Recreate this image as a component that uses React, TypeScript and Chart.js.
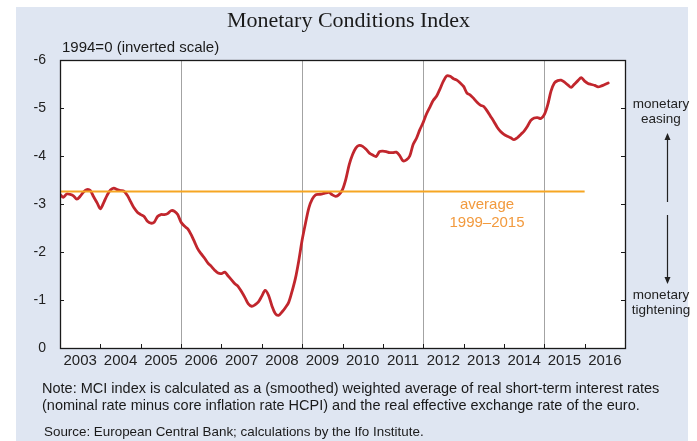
import React, { useEffect, useRef } from 'react';
import { Chart, registerables } from 'chart.js';

Chart.register(...registerables);

// ---- data ----
const yearLabels = ['2003', '2004', '2005', '2006', '2007', '2008', '2009', '2010', '2011', '2012', '2013', '2014', '2015', '2016'];

// Monthly MCI values (1994=0), January of each year first
const mci2003 = [-3.20, -3.14, -3.21, -3.20, -3.17, -3.10, -3.16, -3.25, -3.30, -3.28, -3.15, -3.03];
const mci2004 = [-2.90, -3.03, -3.18, -3.29, -3.33, -3.30, -3.28, -3.27, -3.18, -3.05, -2.92, -2.83];
const mci2005 = [-2.78, -2.74, -2.64, -2.60, -2.62, -2.74, -2.78, -2.78, -2.80, -2.86, -2.85, -2.78];
const mci2006 = [-2.62, -2.54, -2.48, -2.36, -2.21, -2.06, -1.96, -1.87, -1.77, -1.70, -1.62, -1.56];
const mci2007 = [-1.55, -1.58, -1.50, -1.42, -1.34, -1.28, -1.17, -1.05, -0.92, -0.87, -0.90, -0.96];
const mci2008 = [-1.08, -1.20, -1.10, -0.88, -0.72, -0.68, -0.75, -0.84, -0.95, -1.18, -1.45, -1.82];
const mci2009 = [-2.25, -2.60, -2.92, -3.10, -3.19, -3.20, -3.21, -3.23, -3.24, -3.19, -3.16, -3.20];
const mci2010 = [-3.30, -3.52, -3.82, -4.03, -4.17, -4.22, -4.20, -4.14, -4.06, -4.02, -3.99, -4.09];
const mci2011 = [-4.10, -4.09, -4.07, -4.07, -4.08, -4.01, -3.90, -3.92, -4.00, -4.24, -4.37, -4.55];
const mci2012 = [-4.70, -4.88, -5.02, -5.16, -5.25, -5.40, -5.56, -5.67, -5.66, -5.61, -5.58, -5.52];
const mci2013 = [-5.45, -5.31, -5.27, -5.20, -5.12, -5.06, -5.03, -4.94, -4.83, -4.72, -4.60, -4.51];
const mci2014 = [-4.45, -4.41, -4.38, -4.34, -4.38, -4.45, -4.52, -4.62, -4.74, -4.79, -4.80, -4.78];
const mci2015 = [-4.86, -5.06, -5.35, -5.52, -5.57, -5.58, -5.54, -5.48, -5.43, -5.50, -5.57, -5.63];
const mci2016 = [-5.56, -5.51, -5.49, -5.47, -5.44, -5.46, -5.49, -5.52];

const averageValue = -3.26; // average 1999–2015
const averageFromYear = 2003;
const averageToYear = 2016;

const yTickValues = [-6, -5, -4, -3, -2, -1, 0];
const gridYears = ['2006', '2009', '2012', '2015'];

const mciMonthly = [
  ...mci2003, ...mci2004, ...mci2005, ...mci2006, ...mci2007, ...mci2008, ...mci2009,
  ...mci2010, ...mci2011, ...mci2012, ...mci2013, ...mci2014, ...mci2015, ...mci2016,
];

const FIRST_YEAR = Number(yearLabels[0]);
const monthOf = (year: number) => (year - FIRST_YEAR) * 12;

const framePlugin = {
  id: 'frame',
  beforeDraw(chart: any) {
    const { ctx, chartArea } = chart;
    const { left, top, right, bottom } = chartArea;
    ctx.save();
    ctx.fillStyle = '#ffffff';
    ctx.fillRect(left, top, right - left, bottom - top);
    ctx.restore();
  },
  beforeDatasetsDraw(chart: any) {
    const { ctx, chartArea, scales } = chart;
    const xs = scales.x;
    ctx.save();
    ctx.strokeStyle = '#a3a3a3';
    ctx.lineWidth = 1;
    gridYears.forEach((y) => {
      const px = Math.round(xs.getPixelForValue(monthOf(Number(y)))) + 0.5;
      ctx.beginPath();
      ctx.moveTo(px, chartArea.top);
      ctx.lineTo(px, chartArea.bottom);
      ctx.stroke();
    });
    ctx.restore();
  },
  afterDatasetsDraw(chart: any) {
    const { ctx, chartArea, scales } = chart;
    const { left, top, right, bottom } = chartArea;
    const xs = scales.x;
    const ys = scales.y;
    ctx.save();
    ctx.strokeStyle = '#1a1a1a';
    ctx.lineWidth = 1;
    // inward ticks
    ctx.beginPath();
    yTickValues.forEach((v) => {
      const py = Math.round(ys.getPixelForValue(v)) + 0.5;
      ctx.moveTo(left, py);
      ctx.lineTo(left + 4, py);
      ctx.moveTo(right - 4, py);
      ctx.lineTo(right, py);
    });
    for (let i = 1; i < yearLabels.length; i++) {
      const px = Math.round(xs.getPixelForValue(i * 12)) + 0.5;
      ctx.moveTo(px, bottom);
      ctx.lineTo(px, bottom - 4);
    }
    ctx.stroke();
    // frame
    ctx.lineWidth = 1.3;
    ctx.strokeRect(Math.round(left) + 0.5, Math.round(top) + 0.5, Math.round(right - left), Math.round(bottom - top));

    // easing / tightening arrows
    const ax = 667.5;
    ctx.strokeStyle = '#222';
    ctx.fillStyle = '#222';
    ctx.lineWidth = 1.2;
    ctx.beginPath();
    ctx.moveTo(ax, 202);
    ctx.lineTo(ax, 138);
    ctx.moveTo(ax, 215);
    ctx.lineTo(ax, 279);
    ctx.stroke();
    ctx.beginPath();
    ctx.moveTo(ax, 133);
    ctx.lineTo(ax - 3, 140);
    ctx.lineTo(ax + 3, 140);
    ctx.closePath();
    ctx.fill();
    ctx.beginPath();
    ctx.moveTo(ax, 284);
    ctx.lineTo(ax - 3, 277);
    ctx.lineTo(ax + 3, 277);
    ctx.closePath();
    ctx.fill();
    ctx.restore();
  },
};

export default function App() {
  const canvasRef = useRef<HTMLCanvasElement | null>(null);

  useEffect(() => {
    if (!canvasRef.current) return;
    const mciPoints = mciMonthly.map((v, i) => ({ x: i, y: v }));
    const avgPoints = [
      { x: monthOf(averageFromYear), y: averageValue },
      { x: monthOf(averageToYear), y: averageValue },
    ];
    const chart = new Chart(canvasRef.current, {
      type: 'line',
      data: {
        datasets: [
          {
            label: 'average 1999–2015',
            data: avgPoints,
            borderColor: '#f6a623',
            borderWidth: 2.2,
            pointRadius: 0,
            order: 0,
          },
          {
            label: 'Monetary Conditions Index',
            data: mciPoints,
            borderColor: '#c1262d',
            borderWidth: 2.8,
            pointRadius: 0,
            tension: 0.3,
            borderCapStyle: 'round',
            borderJoinStyle: 'round',
            order: 1,
          },
        ],
      },
      options: {
        animation: false,
        responsive: false,
        maintainAspectRatio: false,
        layout: { padding: { left: 0, top: 60, right: 72, bottom: 63 } },
        plugins: {
          legend: { display: false },
          tooltip: { enabled: false },
          title: { display: false },
        },
        scales: {
          x: {
            type: 'linear',
            min: 0,
            max: yearLabels.length * 12,
            grid: { display: false, drawTicks: false },
            border: { display: false },
            ticks: {
              stepSize: 6,
              autoSkip: false,
              maxRotation: 0,
              padding: 4,
              color: '#222',
              font: { family: '"Liberation Sans", Arial, sans-serif', size: 15 },
              callback: (value: any) => {
                const n = Number(value);
                if (n % 12 !== 6) return '';
                return yearLabels[(n - 6) / 12] ?? '';
              },
            },
            afterFit: (scale: any) => {
              scale.height = 30;
            },
          },
          y: {
            type: 'linear',
            min: -6,
            max: 0,
            reverse: true,
            grid: { display: false, drawTicks: false },
            border: { display: false },
            ticks: {
              stepSize: 1,
              padding: 14,
              color: '#222',
              font: { family: '"Liberation Sans", Arial, sans-serif', size: 14 },
            },
            afterFit: (scale: any) => {
              scale.width = 60;
            },
          },
        },
      },
      plugins: [framePlugin],
    });
    return () => chart.destroy();
  }, []);

  const sans = '"Liberation Sans", Arial, sans-serif';
  return (
    <div style={{ position: 'fixed', left: 0, top: 0, width: 697, height: 441, background: '#ffffff', overflow: 'hidden' }}>
      <div style={{ position: 'absolute', left: 16, top: 7, width: 672, height: 434, background: '#dfe6f2' }} />
      <canvas ref={canvasRef} width={697} height={441} style={{ position: 'absolute', left: 0, top: 0, width: 697, height: 441 }} />
      <div style={{ position: 'absolute', left: 0, top: 8, width: 697, textAlign: 'center', font: '22px "Liberation Serif", "Times New Roman", serif', lineHeight: '24px', color: '#1a1a1a' }}>
        Monetary Conditions Index
      </div>
      <div style={{ position: 'absolute', left: 62, top: 38, font: `15px ${sans}`, lineHeight: '17px', color: '#1a1a1a', whiteSpace: 'nowrap' }}>
        1994=0 (inverted scale)
      </div>
      <div style={{ position: 'absolute', left: 601, top: 96, width: 120, textAlign: 'center', font: `13.5px ${sans}`, lineHeight: '15px', color: '#222' }}>
        monetary<br />easing
      </div>
      <div style={{ position: 'absolute', left: 601, top: 287, width: 120, textAlign: 'center', font: `13.5px ${sans}`, lineHeight: '15px', color: '#222' }}>
        monetary<br />tightening
      </div>
      <div style={{ position: 'absolute', left: 427, top: 195, width: 120, textAlign: 'center', font: `15px ${sans}`, lineHeight: '18px', color: '#f29a3e' }}>
        average<br />1999–2015
      </div>
      <div style={{ position: 'absolute', left: 42, top: 380, font: `14.5px ${sans}`, lineHeight: '17px', color: '#1a1a1a', whiteSpace: 'nowrap' }}>
        Note: MCI index is calculated as a (smoothed) weighted average of real short-term interest rates<br />
        (nominal rate minus core inflation rate HCPI) and the real effective exchange rate of the euro.
      </div>
      <div style={{ position: 'absolute', left: 44, top: 423, font: `13.4px ${sans}`, lineHeight: '17px', color: '#1a1a1a', whiteSpace: 'nowrap' }}>
        Source: European Central Bank; calculations by the Ifo Institute.
      </div>
    </div>
  );
}
